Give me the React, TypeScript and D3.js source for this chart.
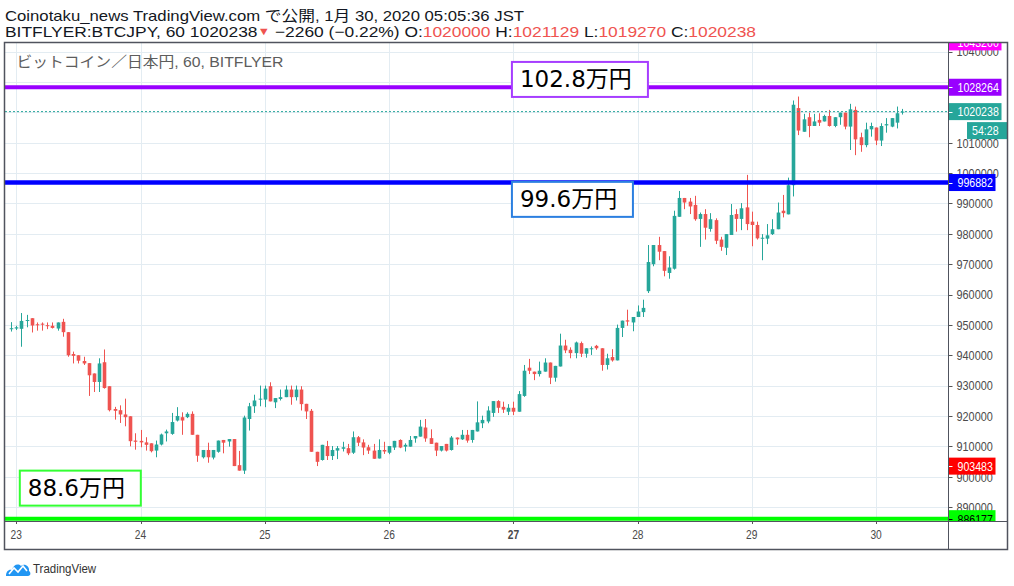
import React from 'react';
import * as d3 from 'd3';

// hourly candles, BITFLYER BTCJPY, Jan 22 23:00 .. Jan 30 05:00 JST
const opens = [
  948700, 948800, 948700, 951400, 952200, 950200, 950400, 949900, 949700, 948800,
  951000, 947600, 940400, 940000, 938100, 937400, 934000, 931200, 937700, 929800,
  922300, 921900, 920500, 919900, 911900, 911800, 911300, 911000, 908600, 910600,
  914300, 914100, 918500, 919600, 919600, 920700, 913800, 906400, 908800, 906300,
  908200, 912100, 911600, 912400, 903800, 902000, 919000, 923200, 925400, 925400,
  929800, 924500, 925600, 926200, 928700, 926200, 928700, 924000, 921700, 908200,
  905500, 910100, 906800, 908600, 909200, 909400, 907900, 913000, 911300, 909700,
  908600, 906000, 908800, 907900, 909600, 912100, 909900, 909900, 912600, 913200,
  916200, 912700, 911200, 908600, 910800, 908800, 912900, 912300, 913800, 912100,
  914900, 917600, 918200, 921000, 924900, 923000, 921400, 922700, 921400, 926600,
  935900, 934600, 933800, 934600, 937600, 932600, 936300, 943200, 941800, 940700,
  944000, 940500, 942000, 943100, 942300, 936800, 939400, 938300, 949000, 951500,
  950800, 952600, 954200, 961100, 970000, 976300, 974300, 967100, 968500, 985600,
  991800, 990600, 989500, 984900, 986500, 981600, 984500, 978100, 975400, 979600,
  986500, 984900, 988700, 984000, 982900, 978400, 978400, 979900, 981500, 987600,
  986400, 996000, 1021400, 1013600, 1018400, 1015500, 1017500, 1017000, 1018800, 1015500,
  1018400, 1019900, 1015300, 1020800, 1011800, 1009200, 1014400, 1015000, 1010700, 1015700,
  1015300, 1016600, 1020000,
];
const highs = [
  950900, 949700, 953900, 953300, 952200, 950800, 950800, 950800, 950800, 950800,
  952000, 947600, 941200, 940000, 939500, 937400, 934000, 939000, 941900, 929800,
  923000, 923500, 925700, 919900, 914300, 915400, 913000, 911000, 911900, 914200,
  915500, 921000, 922900, 921200, 921200, 921500, 913800, 908800, 911200, 908800,
  911900, 912100, 912400, 912400, 908500, 920100, 924300, 927000, 930000, 930000,
  931100, 925900, 928700, 930000, 930000, 930000, 929800, 924000, 922300, 908200,
  910500, 911800, 910100, 910100, 911500, 910800, 914900, 913400, 912300, 910500,
  910800, 912300, 911500, 910100, 911800, 912300, 911000, 913400, 913400, 918700,
  919000, 915600, 911200, 910100, 910800, 913400, 912900, 915400, 915400, 915400,
  924800, 920100, 923200, 924900, 925200, 924700, 923900, 924700, 928200, 936800,
  938800, 934600, 937900, 939000, 937600, 936500, 947100, 945100, 942600, 944500,
  944500, 942300, 942900, 943400, 942300, 940500, 942000, 950100, 951400, 955000,
  952600, 956400, 958300, 976300, 976300, 979000, 974300, 972600, 987600, 994100,
  991800, 991800, 992500, 987000, 988100, 986800, 985100, 979000, 979900, 989800,
  988100, 990100, 999400, 987300, 984000, 979900, 983200, 984800, 990300, 992800,
  998500, 1023900, 1025200, 1019500, 1019900, 1019500, 1019700, 1019200, 1020800, 1018400,
  1019900, 1019900, 1022800, 1021900, 1013300, 1016600, 1016600, 1015000, 1016400, 1018100,
  1018100, 1021900, 1021129,
];
const lows = [
  947800, 948300, 942800, 949200, 947500, 948100, 948100, 948600, 948800, 948100,
  946100, 939500, 937300, 937300, 936800, 926600, 927900, 927900, 929000, 921500,
  918800, 917700, 916600, 910000, 908900, 909700, 908600, 908000, 906400, 910300,
  911600, 913800, 918200, 913800, 919300, 913800, 904900, 906000, 904600, 905700,
  907900, 907700, 909900, 903500, 902000, 900900, 915200, 921000, 923200, 922900,
  924800, 922600, 925100, 926200, 923700, 925100, 921800, 919000, 908200, 903500,
  905300, 905500, 905500, 905800, 908300, 907100, 907500, 910100, 907100, 907500,
  905900, 906000, 907500, 907400, 908800, 909400, 908300, 909900, 911200, 913200,
  911500, 910800, 906800, 908300, 908300, 908600, 910500, 912100, 911200, 911200,
  914900, 916000, 917600, 919700, 921000, 921000, 920300, 920300, 921400, 926300,
  933800, 931800, 933000, 934600, 930500, 931300, 936300, 940700, 939000, 939000,
  939400, 939200, 940100, 941800, 934900, 935300, 937900, 938300, 946000, 949700,
  947900, 952600, 952600, 960500, 969300, 971300, 966000, 965200, 968200, 985600,
  988100, 986500, 984300, 975700, 978100, 980700, 976600, 974400, 973000, 979600,
  980700, 981200, 981200, 975900, 978100, 971300, 976600, 979600, 981500, 985400,
  986400, 992300, 1012500, 1013600, 1011800, 1015500, 1015500, 1017000, 1015300, 1015100,
  1015900, 1014400, 1007600, 1005900, 1007000, 1008500, 1012000, 1009200, 1008900, 1013300,
  1015100, 1014700, 1019270,
];
const closes = [
  948900, 949200, 951300, 951600, 949800, 949900, 950100, 949700, 949000, 950800,
  947600, 940000, 939800, 938200, 937300, 933400, 931200, 937300, 929200, 921900,
  921700, 920500, 919600, 911700, 911500, 911300, 910500, 908400, 910600, 913900,
  914900, 918000, 920000, 918500, 920700, 913800, 906900, 908800, 906400, 908800,
  911900, 911200, 912400, 903500, 902000, 919500, 923200, 925100, 925700, 929000,
  924800, 925900, 926200, 928700, 926200, 928700, 923900, 921500, 908200, 904900,
  910500, 906800, 908800, 909400, 909700, 907700, 913000, 911200, 909600, 908600,
  905900, 908800, 908300, 910100, 911800, 909600, 910500, 912100, 913400, 916500,
  912600, 910800, 908600, 910100, 908600, 912900, 912300, 913800, 911900, 915400,
  917900, 918700, 921800, 924900, 922700, 922100, 922700, 921400, 927200, 934900,
  934900, 933800, 934900, 937600, 932600, 936500, 943200, 941600, 940700, 944200,
  940500, 942300, 942300, 942300, 936800, 939000, 938300, 949000, 951400, 951100,
  952600, 954400, 955600, 970700, 976300, 974100, 967800, 968900, 985900, 991800,
  990300, 989000, 984800, 986500, 982000, 984800, 977700, 975700, 979900, 986200,
  984900, 988400, 983200, 982900, 978500, 978700, 979500, 981500, 987000, 986800,
  996000, 1022500, 1014000, 1017700, 1015500, 1017000, 1016600, 1018800, 1015500, 1018400,
  1019900, 1015300, 1021000, 1011100, 1009200, 1014400, 1015500, 1010700, 1015500, 1016100,
  1018100, 1019700, 1020238,
];

// day labels and the bar index where each day starts
const dayLabels = ['23', '24', '25', '26', '27', '28', '29', '30'];
const dayBars = [1, 25, 49, 73, 97, 121, 143, 167];

const priceTicks = [
  890000, 900000, 910000, 920000, 930000, 940000, 950000, 960000,
  970000, 980000, 990000, 1000000, 1010000, 1020000, 1030000, 1040000,
];

// horizontal levels drawn on chart
const levelValues = [1028264, 996882, 886177];
const lastPrice = 1020238;
const countdown = '54:28';

// price-axis markers
const markerValues = [1043200, 1028264, 1020238, 996882, 903483, 886177];

// text annotations, anchored at (bar, price) of the box's top-left corner
const noteTexts = ['102.8万円', '99.6万円', '88.6万円'];
const noteBars = [96.7, 96.7, 1.7];
const notePrices = [1036600, 997100, 902000];

const W = 1014;
const H = 586;
const PL = 5, PT = 43, PR = 948.5, PB = 521;
const OR = 1007, OB = 549;

const UP = '#26a69a';
const DOWN = '#ef5350';
const GRID = '#e3ecf2';
const FRAME = '#50535e';
const UI_FONT = '"Liberation Sans", Arial, "Noto Sans CJK JP", sans-serif';

const levelColors = ['#9900ff', '#0000ff', '#00ff00'];
const levelWidths = [4, 4.5, 4];
const markerFills = ['#ff00ff', '#9900ff', UP, '#0000ff', '#ff0000', '#00ff00'];
const markerInk = ['#fff', '#fff', '#fff', '#fff', '#fff', '#000'];
const noteStrokes = ['#a63dff', '#2b7fe0', '#33ff33'];

const NText: React.FC<{ x: number; y: number; sx?: number; size: number; fill?: string; anchor?: string; weight?: string | number; base?: string; children: React.ReactNode }> = ({ x, y, sx = 0.8, size, fill = '#131722', anchor = 'start', weight = 'normal', base, children }) => (
  <text
    transform={`translate(${x},${y}) scale(${sx},1)`}
    fontFamily={UI_FONT}
    fontSize={size}
    fill={fill}
    textAnchor={anchor}
    fontWeight={weight}
    dominantBaseline={base}
  >
    {children}
  </text>
);

export default function App() {
  const x = d3.scaleLinear().domain([0, closes.length - 1]).range([11, 902]);
  const y = d3.scaleLinear().domain([900000, 1010000]).range([476.7, 142.7]);
  const bodyW = 3.6;
  const fmt = (v: number) => String(Math.round(v));

  // axis tick labels sitting under a coloured marker are not drawn
  const shownTicks = priceTicks.filter(p => markerValues.every(m => Math.abs(y(m) - y(p)) > 8));

  return (
    <svg width={W} height={H} style={{ position: 'absolute', left: 0, top: 0, background: '#fff' }}>
      <defs>
        <clipPath id="plot">
          <rect x={PL} y={PT} width={PR - PL} height={PB - PT} />
        </clipPath>
        <clipPath id="axis">
          <rect x={PR} y={PT} width={OR - PR} height={PB - PT} />
        </clipPath>
      </defs>

      {/* header */}
      <text x={5} y={20.5} fontFamily={UI_FONT} fontSize={15} fill="#131722" textLength={519} lengthAdjust="spacingAndGlyphs">
        Coinotaku_news TradingView.com で公開, 1月 30, 2020 05:05:36 JST
      </text>
      <text x={5} y={36.5} fontFamily={UI_FONT} fontSize={15} fill="#131722" textLength={751} lengthAdjust="spacingAndGlyphs">
        BITFLYER:BTCJPY, 60 1020238<tspan fill={DOWN} fontSize={11} dy={-2}>▼</tspan>
        <tspan dy={2}> −2260 (−0.22%) O:</tspan>
        <tspan fill={DOWN}>1020000</tspan> H:<tspan fill={DOWN}>1021129</tspan> L:
        <tspan fill={DOWN}>1019270</tspan> C:<tspan fill={DOWN}>1020238</tspan>
      </text>

      {/* grid */}
      <g clipPath="url(#plot)">
        {priceTicks.map(p => (
          <line key={p} x1={PL} x2={PR} y1={Math.round(y(p)) + 0.5} y2={Math.round(y(p)) + 0.5} stroke={GRID} />
        ))}
        {dayBars.map(b => (
          <line key={b} x1={Math.round(x(b)) + 0.5} x2={Math.round(x(b)) + 0.5} y1={PT} y2={PB} stroke={GRID} />
        ))}
      </g>

      <text x={16.5} y={67.3} fontFamily={UI_FONT} fontSize={14.5} fill="#5d5d5d" textLength={267} lengthAdjust="spacingAndGlyphs">
        ビットコイン／日本円, 60, BITFLYER
      </text>

      {/* candles */}
      <g clipPath="url(#plot)">
        {closes.map((c, i) => {
          const o = opens[i];
          const col = c >= o ? UP : DOWN;
          const cx = Math.round(x(i)) + 0.5;
          const top = y(Math.max(o, c));
          const h = Math.max(1, Math.abs(y(o) - y(c)));
          return (
            <g key={i}>
              <line x1={cx} x2={cx} y1={y(highs[i])} y2={y(lows[i])} stroke={col} strokeWidth={1} />
              <rect x={cx - bodyW / 2} y={top} width={bodyW} height={h} fill={col} />
            </g>
          );
        })}

        {/* last price line */}
        <line x1={PL} x2={PR} y1={y(lastPrice)} y2={y(lastPrice)} stroke={UP} strokeDasharray="2,2" />

        {/* horizontal levels */}
        {levelValues.map((v, i) => (
          <line key={v} x1={PL} x2={PR} y1={y(v)} y2={y(v)} stroke={levelColors[i]} strokeWidth={levelWidths[i]} />
        ))}

        {/* annotations */}
        {noteTexts.map((t, i) => {
          const bx = x(noteBars[i]);
          const by = y(notePrices[i]);
          const bw = i === 0 ? 136 : 121;
          return (
            <g key={t}>
              <rect x={bx} y={by} width={bw} height={35} fill="#fff" stroke={noteStrokes[i]} strokeWidth={2} />
              <text
                x={bx + 8}
                y={by + 25.5}
                fontFamily='"DejaVu Sans", "Noto Sans CJK JP", sans-serif'
                fontSize={23}
                fill="#000"
              >
                {t}
              </text>
            </g>
          );
        })}
      </g>

      {/* price axis */}
      {priceTicks.map(p => (
        <line key={p} x1={PR} x2={PR + 4} y1={Math.round(y(p)) + 0.5} y2={Math.round(y(p)) + 0.5} stroke="#555" />
      ))}
      {shownTicks.map(p => (
        <NText key={p} x={956.5} y={y(p)} size={12.5} sx={0.87} fill="#4a4a4a" base="central">
          {fmt(p)}
        </NText>
      ))}

      <g clipPath="url(#axis)">
        {markerValues.map((v, i) => {
          const label = fmt(v);
          const w = label.length * 6 + 11;
          const cy = y(v);
          return (
            <g key={v}>
              <rect x={PR} y={cy - 8.5} width={w} height={17} fill={markerFills[i]} />
              <line x1={PR} x2={PR + 4} y1={Math.round(cy) + 0.5} y2={Math.round(cy) + 0.5} stroke={markerInk[i]} />
              <NText x={957.5} y={cy} size={12.5} sx={0.85} fill={markerInk[i]} base="central">
                {label}
              </NText>
            </g>
          );
        })}
        <rect x={967} y={y(lastPrice) + 10.5} width={OR - 967} height={17} fill={UP} />
        <NText x={972} y={y(lastPrice) + 19} size={12.5} sx={0.85} fill="#fff" base="central">
          {countdown}
        </NText>
      </g>

      {/* time axis */}
      {dayBars.map((b, i) => (
        <g key={b}>
          <line x1={Math.round(x(b)) + 0.5} x2={Math.round(x(b)) + 0.5} y1={PB} y2={PB + 3} stroke="#555" />
          <NText
            x={x(b)}
            y={535}
            size={12}
            sx={0.85}
            fill="#4a4a4a"
            anchor="middle"
            weight={dayLabels[i] === '27' ? 'bold' : 'normal'}
            base="central"
          >
            {dayLabels[i]}
          </NText>
        </g>
      ))}

      {/* frame */}
      <rect x={PL - 0.5} y={PT - 0.5} width={OR - PL + 1} height={OB - PT + 1} fill="none" stroke={FRAME} strokeWidth={1.5} />
      <line x1={PR} x2={PR} y1={PT} y2={OB} stroke={FRAME} />
      <line x1={PL} x2={OR} y1={PB + 0.5} y2={PB + 0.5} stroke={FRAME} />

      {/* logo */}
      <path
        d="M6,576 C6,571 9,569 12,570 C13,565 18,563 21,566 C24,563 30,566 29,571 C31,572 31,576 28,576 Z"
        fill="#2196f3"
      />
      <path d="M9,574 L14,568 L18,572 L23,566 L27,571" fill="none" stroke="#fff" strokeWidth={1.6} />
      <NText x={33} y={573} size={13.5} sx={0.85} fill="#333">
        TradingView
      </NText>
    </svg>
  );
}
